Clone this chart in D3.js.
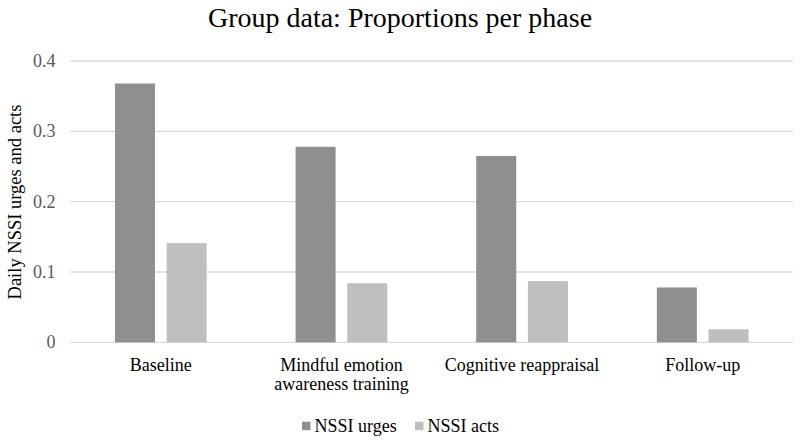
<!DOCTYPE html>
<html><head><meta charset="utf-8">
<script src="https://cdn.jsdelivr.net/npm/d3@7"></script>
<style>body{margin:0;background:#fff}svg{display:block}</style>
</head><body><svg id="c" width="800" height="444" font-family="'Liberation Serif', 'Times New Roman', serif"></svg>
<script>
const categories = [["Baseline"], ["Mindful emotion", "awareness training"], ["Cognitive reappraisal"], ["Follow-up"]];
const seriesNames = ["NSSI urges", "NSSI acts"];
const urges = [0.368, 0.278, 0.265, 0.078];
const acts = [0.141, 0.084, 0.087, 0.0185];
const yTicks = [0, 0.1, 0.2, 0.3, 0.4];
const colors = ["#8f8f8f", "#bfbfbf"];

(function () {
const svg = d3.select("#c");
const mLeft = 70.5, mRight = 793, mTop = 61, mBottom = 342.3;
const x = d3.scaleBand().domain(d3.range(categories.length)).range([mLeft, mRight]).paddingInner(0).paddingOuter(0);
const x1 = d3.scaleBand().domain([0, 1]).range([0, x.bandwidth()]).paddingInner(0.226).paddingOuter(0.86);
const y = d3.scaleLinear().domain([0, 0.4]).range([mBottom, mTop]);

svg.append("text").attr("x", 400).attr("y", 27).attr("text-anchor", "middle")
  .attr("font-size", 28).attr("fill", "#000").text("Group data: Proportions per phase");

svg.append("g").selectAll("line").data(yTicks).join("line")
  .attr("x1", mLeft).attr("x2", mRight).attr("y1", d => y(d)).attr("y2", d => y(d))
  .attr("stroke", "#d9d9d9").attr("stroke-width", 1.3);

svg.append("g").selectAll("text").data(yTicks).join("text")
  .attr("x", 55.5).attr("y", d => y(d) + 6).attr("text-anchor", "end")
  .attr("font-size", 18).attr("fill", "#595959").text(d => d === 0 ? "0" : d3.format(".1f")(d));

svg.append("text").attr("transform", "translate(21,202) rotate(-90)").attr("text-anchor", "middle")
  .attr("font-size", 18.5).attr("fill", "#000").text("Daily NSSI urges and acts");

[urges, acts].forEach((vals, s) => {
  svg.append("g").selectAll("rect").data(vals).join("rect")
    .attr("x", (d, i) => x(i) + x1(s)).attr("width", x1.bandwidth())
    .attr("y", d => y(d)).attr("height", d => y(0) - y(d)).attr("fill", colors[s]);
});

const cg = svg.append("g");
categories.forEach((lines, i) => {
  const cx = x(i) + x.bandwidth() / 2;
  const t = cg.append("text").attr("x", cx).attr("y", 370.5)
    .attr("text-anchor", "middle").attr("font-size", 18).attr("fill", "#000");
  lines.forEach((l, j) => t.append("tspan").attr("x", cx).attr("dy", j ? 19.5 : 0).text(l));
});

const legX = [302, 415];
seriesNames.forEach((n, s) => {
  svg.append("rect").attr("x", legX[s]).attr("y", 421.7).attr("width", 8.5).attr("height", 8.5).attr("fill", colors[s]);
  svg.append("text").attr("x", legX[s] + 12.5).attr("y", 432.3).attr("font-size", 18).attr("fill", "#000").text(n);
});
})();
</script></body></html>
